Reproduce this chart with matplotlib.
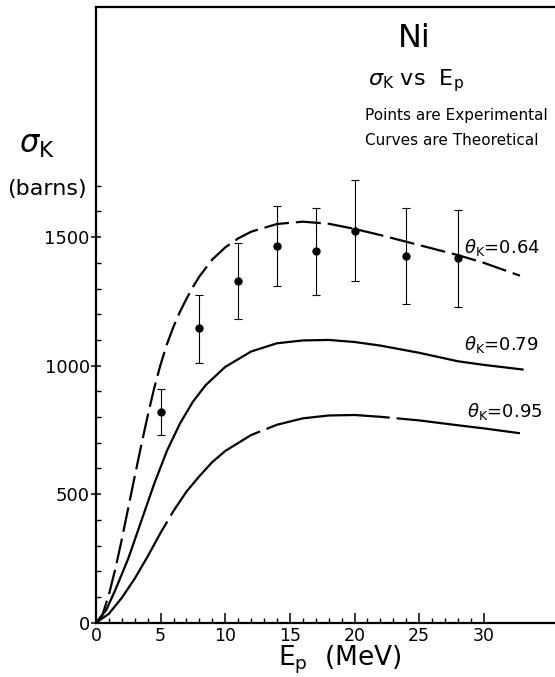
import matplotlib
matplotlib.use('Agg')
import matplotlib.pyplot as plt
from matplotlib.ticker import FixedLocator

plt.rcParams['font.family'] = 'DejaVu Sans'
plt.rcParams['mathtext.fontset'] = 'dejavusans'
plt.rcParams['lines.scale_dashes'] = False

#################
# Data (read off)
#################
# experimental points: E_p (MeV), sigma_K (barns), error bar ends
ep_pts = [5, 8, 11, 14, 17, 20, 24, 28]
sig_pts = [820, 1145, 1330, 1464, 1447, 1523, 1425, 1417]
sig_lo = [730, 1011, 1182, 1311, 1276, 1328, 1240, 1229]
sig_hi = [910, 1275, 1476, 1620, 1613, 1721, 1613, 1604]

# theory, theta_K = 0.64 (dashed)
ep_064 = [0, 0.5, 1, 1.5, 2, 2.5, 3, 3.5, 4, 4.5, 5, 5.5, 6, 6.5, 7, 7.5, 8,
          9, 10, 11, 12, 14, 16, 18, 20, 22, 24, 26, 28, 30, 32.8]
sig_064 = [0, 30, 110, 210, 325, 448, 570, 690, 805, 912, 1005, 1085, 1152,
           1210, 1260, 1306, 1347, 1413, 1460, 1495, 1521, 1551, 1560, 1552,
           1532, 1508, 1482, 1456, 1430, 1400, 1350]

# theory, theta_K = 0.79 (solid)
ep_079 = [0, 0.8, 1.5, 2.5, 3.5, 4.5, 5.5, 6.5, 7.5, 8.5, 10, 12, 14, 16, 18,
          20, 22, 25, 28, 30, 33]
sig_079 = [0, 50, 128, 250, 395, 540, 670, 775, 860, 925, 995, 1055, 1087,
           1098, 1100, 1092, 1078, 1050, 1017, 1003, 985]

# theory, theta_K = 0.95 (long dashes)
ep_095 = [0, 1, 2, 3, 4, 5, 6, 7, 8, 9, 10, 12, 14, 16, 18, 20, 22, 25, 28,
          30, 32.8]
sig_095 = [0, 35, 97, 172, 258, 350, 435, 510, 570, 625, 668, 730, 770, 795,
           806, 808, 801, 787, 768, 756, 737]

x_major = [0, 5, 10, 15, 20, 25, 30]
x_minor = list(range(0, 31))
y_major = [0, 500, 1000, 1500]
y_minor = list(range(0, 1800, 100))

#######
# Plot
#######
W, H = 555, 677
fig = plt.figure(figsize=(W / 100, H / 100), dpi=100)
ax = fig.add_axes([96 / W, 54.3 / H, 517 / W, 615.4 / H])

ax.plot(ep_064, sig_064, color='black', lw=1.6, dashes=(18, 5))
ax.plot(ep_079, sig_079, color='black', lw=1.6)
ax.plot(ep_095, sig_095, color='black', lw=1.6, dashes=(90, 5))

yerr = [[s - lo for s, lo in zip(sig_pts, sig_lo)],
        [hi - s for s, hi in zip(sig_pts, sig_hi)]]
ax.errorbar(ep_pts, sig_pts, yerr=yerr, fmt='o', color='black', ms=5,
            elinewidth=0.8, capsize=3, capthick=0.8)

ax.set_xlim(0, 40)
ax.set_ylim(0, 2394)

ax.xaxis.set_major_locator(FixedLocator(x_major))
ax.xaxis.set_minor_locator(FixedLocator(x_minor))
ax.yaxis.set_major_locator(FixedLocator(y_major))
ax.yaxis.set_minor_locator(FixedLocator(y_minor))

ax.tick_params(axis='x', which='major', direction='in', length=7, width=1.1,
               labelsize=12.5, pad=3)
ax.tick_params(axis='x', which='minor', direction='in', length=3.5, width=1)
ax.tick_params(axis='y', which='major', direction='inout', length=7, width=1.1,
               labelsize=13, pad=1)
ax.tick_params(axis='y', which='minor', direction='in', length=3.5, width=1)

for sp in ax.spines.values():
    sp.set_linewidth(1.6)

# curve labels
ax.text(28.5, 1438, r'$\theta_{\mathrm{K}}$=0.64', fontsize=13, va='baseline')
ax.text(28.5, 1061, r'$\theta_{\mathrm{K}}$=0.79', fontsize=13, va='baseline')
ax.text(28.7, 801, r'$\theta_{\mathrm{K}}$=0.95', fontsize=13, va='baseline')

# titles and axis labels (pixel positions -> figure fraction)
def ftext(x, y, s, **kw):
    fig.text(x / W, 1 - y / H, s, va='baseline', **kw)

ftext(414, 47, 'Ni', fontsize=23, ha='center')
ftext(416, 85, r'$\sigma_{\mathrm{K}}$ vs  E$_{\mathrm{p}}$', fontsize=16, ha='center')
ftext(365, 120, 'Points are Experimental', fontsize=11, ha='left')
ftext(365, 145, 'Curves are Theoretical', fontsize=11, ha='left')
ftext(37, 153, r'$\sigma_{\mathrm{K}}$', fontsize=22, ha='center')
ftext(47, 195, '(barns)', fontsize=16, ha='center')
ftext(340, 665, r'E$_{\mathrm{p}}$  (MeV)', fontsize=19, ha='center')

fig.savefig('out.png', dpi=100)
